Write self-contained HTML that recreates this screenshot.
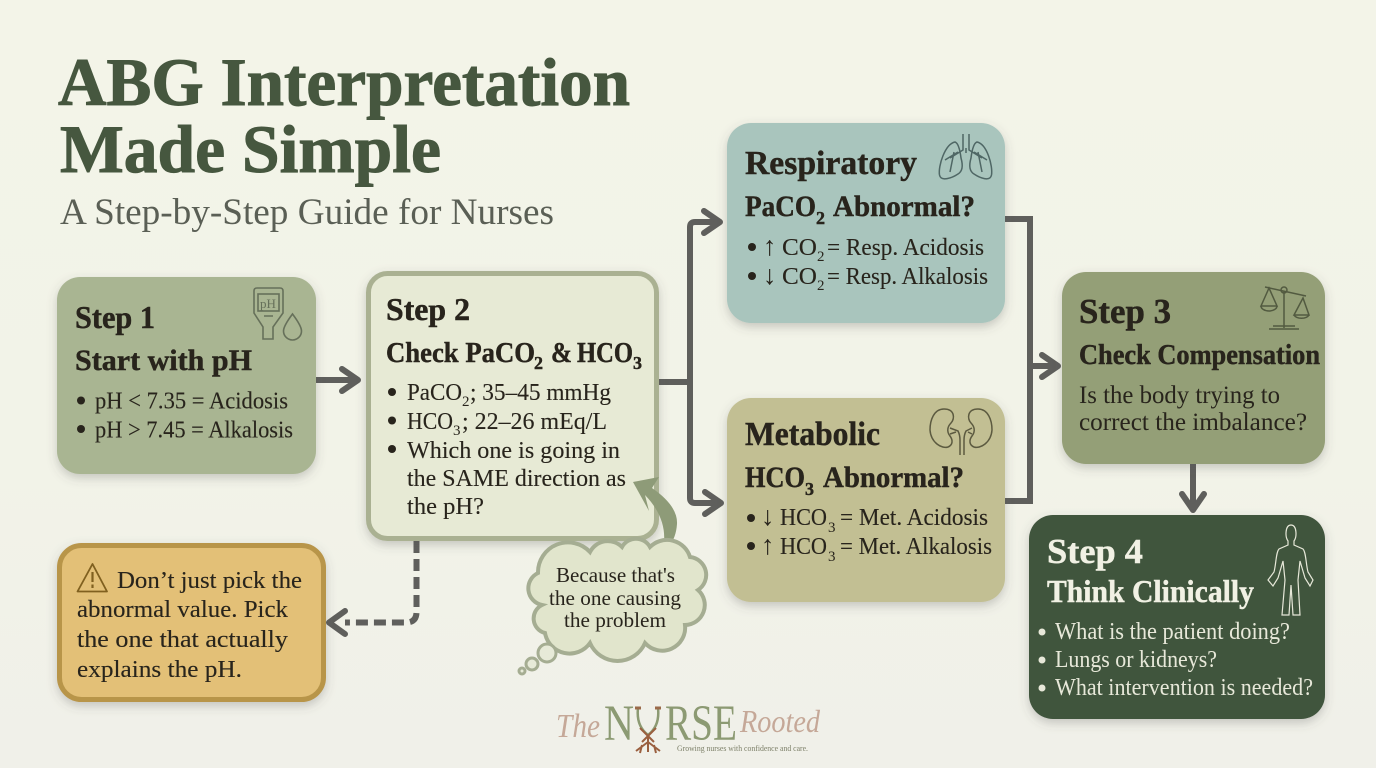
<!DOCTYPE html>
<html><head><meta charset="utf-8"><title>ABG Interpretation Made Simple</title>
<style>
html,body{margin:0;padding:0;width:1376px;height:768px;overflow:hidden;background:#f2f3e8}
svg{display:block}
text{font-family:"Liberation Serif",serif;fill:#28241c}
.b{font-weight:bold;stroke:#28241c;stroke-width:.45px}
.t{font-weight:bold;fill:#46573f;stroke:#46573f;stroke-width:1px}
.w{fill:#f1f1e4;stroke:#f1f1e4}
.li{font-size:24.500px;stroke:#28241c;stroke-width:.12px}
.l{fill:#e7e8d9;font-size:24px}
.ic{fill:none;stroke:#66705a;stroke-width:1.600}
</style></head><body>
<svg width="1376" height="768" viewBox="0 0 1376 768" xmlns="http://www.w3.org/2000/svg">
<defs>
<filter id="s" x="-10%" y="-10%" width="120%" height="125%"><feDropShadow dx="0" dy="4" stdDeviation="5" flood-color="#555" flood-opacity=".28"/></filter>
<linearGradient id="bg" x1="0" y1="0" x2="0" y2="1"><stop offset="0" stop-color="#f3f4e8"/><stop offset=".6" stop-color="#f2f3e8"/><stop offset="1" stop-color="#f0f0e9"/></linearGradient>
<marker id="a" viewBox="0 0 24 30" refX="20" refY="15" markerWidth="24" markerHeight="30" markerUnits="userSpaceOnUse" orient="auto"><path d="M4 4L20 15L4 26" fill="none" stroke="#5f5f5c" stroke-width="6" stroke-linecap="round" stroke-linejoin="round"/></marker>
</defs>
<rect width="1376" height="768" fill="url(#bg)"/>

<text class="t" x="58" y="105" font-size="68" textLength="572" lengthAdjust="spacingAndGlyphs">ABG Interpretation</text>
<text class="t" x="60" y="172" font-size="68" textLength="381" lengthAdjust="spacingAndGlyphs">Made Simple</text>
<text x="60" y="224" font-size="37" textLength="494" lengthAdjust="spacingAndGlyphs" style="fill:#5a5f55">A Step-by-Step Guide for Nurses</text>

<g fill="none" stroke="#5f5f5c" stroke-width="6">
<path d="M316 380H358" marker-end="url(#a)"/>
<path d="M659 382H690"/>
<path d="M690 382V227Q690 222 695 222H720" marker-end="url(#a)"/>
<path d="M690 382V498Q690 503 695 503H721" marker-end="url(#a)"/>
<path d="M1005 219H1030V501H1005"/>
<path d="M1030 366H1058" marker-end="url(#a)"/>
<path d="M1193 464V510" marker-end="url(#a)"/>
<path d="M416.500 541V612Q416.500 622.500 406 622.500H345" stroke-dasharray="12 6"/>
<path d="M345 611L329 622.500L345 634" stroke-linecap="round" stroke-linejoin="round"/>
</g>

<rect x="57" y="277" width="259" height="197" rx="23" fill="#a9b592" filter="url(#s)"/>
<rect x="368.500" y="273.500" width="288" height="265" rx="19" fill="#e7ead5" stroke="#aab192" stroke-width="5" filter="url(#s)"/>
<rect x="727" y="123" width="278" height="200" rx="24" fill="#a9c5bd" filter="url(#s)"/>
<rect x="727" y="398" width="278" height="204" rx="24" fill="#c2bf93" filter="url(#s)"/>
<rect x="1062" y="272" width="263" height="192" rx="24" fill="#949f77" filter="url(#s)"/>
<rect x="1029" y="515" width="296" height="204" rx="24" fill="#40553d" filter="url(#s)"/>
<rect x="59.500" y="545.500" width="264" height="154" rx="22" fill="#e3c077" stroke="#b8954a" stroke-width="5" filter="url(#s)"/>

<!-- Step 1 -->
<text class="b" x="75" y="328" font-size="32" textLength="80" lengthAdjust="spacingAndGlyphs">Step 1</text>
<text class="b" x="75" y="370" font-size="30" textLength="177" lengthAdjust="spacingAndGlyphs">Start with pH</text>
<circle cx="81" cy="400.500" r="4" fill="#28241c"/><circle cx="81" cy="429" r="4" fill="#28241c"/>
<text class="li" x="95" y="408.500" textLength="193" lengthAdjust="spacingAndGlyphs">pH &lt; 7.35 = Acidosis</text>
<text class="li" x="95" y="437.500" textLength="198" lengthAdjust="spacingAndGlyphs">pH &gt; 7.45 = Alkalosis</text>
<g class="ic">
<path d="M254 291q0-3 3-3h23q3 0 3 3v22l-10 14v12h-10v-12l-9-14z"/>
<rect x="258" y="294" width="21" height="17"/>
<path d="M264 316h9M292.500 314q9 12 9 17a9 9 0 0 1-18 0q0-5 9-17z"/>
</g>
<text x="260" y="308" font-size="13" style="fill:#66705a">pH</text>

<!-- Step 2 -->
<text class="b" x="386" y="320" font-size="32" textLength="84" lengthAdjust="spacingAndGlyphs">Step 2</text>
<text class="b" x="386" y="362" font-size="29" textLength="149" lengthAdjust="spacingAndGlyphs">Check PaCO</text>
<text class="b" x="534" y="369" font-size="18">2</text>
<text class="b" x="551" y="362" font-size="29" textLength="21" lengthAdjust="spacingAndGlyphs">&amp;</text>
<text class="b" x="577" y="362" font-size="29" textLength="56" lengthAdjust="spacingAndGlyphs">HCO</text>
<text class="b" x="633" y="369" font-size="18">3</text>
<g fill="#28241c"><circle cx="392" cy="392" r="4"/><circle cx="392" cy="420.500" r="4"/><circle cx="392" cy="449" r="4"/></g>
<text class="li" x="407" y="400" textLength="55" lengthAdjust="spacingAndGlyphs">PaCO</text>
<text x="462" y="406" font-size="15">2</text>
<text class="li" x="470" y="400" textLength="141" lengthAdjust="spacingAndGlyphs">; 35–45 mmHg</text>
<text class="li" x="407" y="429" textLength="46" lengthAdjust="spacingAndGlyphs">HCO</text>
<text x="453" y="435" font-size="15">3</text>
<text class="li" x="462" y="429" textLength="145" lengthAdjust="spacingAndGlyphs">; 22–26 mEq/L</text>
<text class="li" x="407" y="458" textLength="213" lengthAdjust="spacingAndGlyphs">Which one is going in</text>
<text class="li" x="407" y="486" textLength="219" lengthAdjust="spacingAndGlyphs">the SAME direction as</text>
<text class="li" x="407" y="514" textLength="77" lengthAdjust="spacingAndGlyphs">the pH?</text>

<!-- Cloud -->
<path d="M633 482L659 477L652 488Q678 506 677 524Q676 538 669 546L663 549Q669 520 645 495L649 511Z" fill="#8e9b78"/>
<path d="M590 552A20 20 0 0 1 622 547A16 16 0 0 1 650 547A24 24 0 0 1 690 557A18 18 0 0 1 698 590A20 20 0 0 1 685 625A23 23 0 0 1 645 643A30 30 0 0 1 590 643A25 25 0 0 1 545 633A15 15 0 0 1 542 605A17 17 0 0 1 538 573A30 30 0 0 1 590 552Z" fill="#e1e5cc" stroke="#a5ad92" stroke-width="4"/>
<g fill="#e7ead8" stroke="#a5ad92" stroke-width="3"><circle cx="547" cy="653" r="9"/><circle cx="532" cy="664" r="6"/><circle cx="522" cy="671" r="3"/></g>
<text x="556" y="582" font-size="21.500" textLength="119" lengthAdjust="spacingAndGlyphs">Because that's</text>
<text x="549" y="605" font-size="21.500" textLength="132" lengthAdjust="spacingAndGlyphs">the one causing</text>
<text x="564" y="627" font-size="21.500" textLength="102" lengthAdjust="spacingAndGlyphs">the problem</text>

<!-- Warning -->
<path d="M92.500 564L107 591.500H77.500Z" fill="none" stroke="#80601f" stroke-width="1.800" stroke-linejoin="round"/>
<path d="M92.500 572V582M92.500 584.500V588" stroke="#80601f" stroke-width="2.200"/>
<text class="li" x="117" y="588" textLength="185" lengthAdjust="spacingAndGlyphs">Don’t just pick the</text>
<text class="li" x="77" y="617" textLength="211" lengthAdjust="spacingAndGlyphs">abnormal value. Pick</text>
<text class="li" x="77" y="647" textLength="211" lengthAdjust="spacingAndGlyphs">the one that actually</text>
<text class="li" x="77" y="677" textLength="165" lengthAdjust="spacingAndGlyphs">explains the pH.</text>

<!-- Respiratory -->
<text class="b" x="745" y="174" font-size="34" textLength="172" lengthAdjust="spacingAndGlyphs">Respiratory</text>
<text class="b" x="745" y="216" font-size="30" textLength="71" lengthAdjust="spacingAndGlyphs">PaCO</text>
<text class="b" x="816" y="224" font-size="18">2</text>
<text class="b" x="833" y="216" font-size="30" textLength="142" lengthAdjust="spacingAndGlyphs">Abnormal?</text>
<g fill="#28241c"><circle cx="752" cy="247" r="4"/><circle cx="752" cy="276" r="4"/></g>
<text x="763" y="255" font-size="27">↑</text><text x="763" y="284" font-size="27">↓</text>
<text class="li" x="782" y="255" textLength="35" lengthAdjust="spacingAndGlyphs">CO</text><text x="817" y="261" font-size="15">2</text>
<text class="li" x="827" y="255" textLength="157" lengthAdjust="spacingAndGlyphs">= Resp. Acidosis</text>
<text class="li" x="782" y="284" textLength="35" lengthAdjust="spacingAndGlyphs">CO</text><text x="817" y="290" font-size="15">2</text>
<text class="li" x="827" y="284" textLength="161" lengthAdjust="spacingAndGlyphs">= Resp. Alkalosis</text>
<g fill="none" stroke="#4f6765" stroke-width="1.500">
<path d="M963 134V150L950 158M969 134V150L982 158M966 148V153"/>
<path d="M955 142C945 144 938 166 939.500 175C941 182 952 178 958 174C963 171 963 165 961 158C960 150 958 143 955 142Z"/>
<path d="M977 142C987 144 993 166 991.500 175C990 182 980 178 974 174C969 171 969 165 971 158C972 150 974 143 977 142Z"/>
<path d="M945 160L958 152M950 172L954 152M987 160L974 152M982 172L978 152"/>
</g>

<!-- Metabolic -->
<text class="b" x="745" y="445" font-size="34" textLength="135" lengthAdjust="spacingAndGlyphs">Metabolic</text>
<text class="b" x="745" y="487" font-size="30" textLength="60" lengthAdjust="spacingAndGlyphs">HCO</text>
<text class="b" x="805" y="495" font-size="18">3</text>
<text class="b" x="823" y="487" font-size="30" textLength="141" lengthAdjust="spacingAndGlyphs">Abnormal?</text>
<g fill="#28241c"><circle cx="751" cy="518" r="4"/><circle cx="751" cy="546" r="4"/></g>
<text x="761" y="525" font-size="27">↓</text><text x="761" y="554" font-size="27">↑</text>
<text class="li" x="780" y="525" textLength="47" lengthAdjust="spacingAndGlyphs">HCO</text><text x="828" y="532" font-size="15">3</text>
<text class="li" x="840" y="525" textLength="148" lengthAdjust="spacingAndGlyphs">= Met. Acidosis</text>
<text class="li" x="780" y="554" textLength="47" lengthAdjust="spacingAndGlyphs">HCO</text><text x="828" y="561" font-size="15">3</text>
<text class="li" x="840" y="554" textLength="152" lengthAdjust="spacingAndGlyphs">= Met. Alkalosis</text>
<g fill="none" stroke="#5c5a40" stroke-width="1.500">
<path d="M944 409C934 409 930 420 930 430C931 443 942 449 948 447C953 445 953 440 950 436C946 431 948 426 951 423C955 419 955 409 944 409Z"/>
<path d="M978 409C988 409 992 420 992 430C991 443 980 449 974 447C969 445 969 440 972 436C976 431 974 426 971 423C967 419 967 409 978 409Z"/>
<path d="M950 428L958 431Q960 435 960 440V455M950 434L956 432M972 428L966 431Q964 435 964 440V455M972 434L968 432"/>
</g>

<!-- Step 3 -->
<text class="b" x="1079" y="323" font-size="35" textLength="92" lengthAdjust="spacingAndGlyphs">Step 3</text>
<text class="b" x="1079" y="364" font-size="28" textLength="241" lengthAdjust="spacingAndGlyphs">Check Compensation</text>
<text x="1079" y="403" font-size="25" textLength="201" lengthAdjust="spacingAndGlyphs">Is the body trying to</text>
<text x="1079" y="430" font-size="25" textLength="228" lengthAdjust="spacingAndGlyphs">correct the imbalance?</text>
<g fill="none" stroke="#525a40" stroke-width="1.500">
<path d="M1265 287L1306 296M1284 291V328M1269 329H1299M1273 326H1295"/><circle cx="1284" cy="290" r="3"/>
<path d="M1269 288L1261 306H1277ZM1261 306A8 5 0 0 0 1277 306M1303 298L1294 315H1309ZM1294 315A8 5 0 0 0 1309 315"/>
</g>

<!-- Step 4 -->
<text class="b w" x="1047" y="563" font-size="35" textLength="96" lengthAdjust="spacingAndGlyphs">Step 4</text>
<text class="b w" x="1047" y="602" font-size="32" textLength="207" lengthAdjust="spacingAndGlyphs">Think Clinically</text>
<g fill="#e7e8d9"><circle cx="1042" cy="632" r="3.500"/><circle cx="1042" cy="660" r="3.500"/><circle cx="1042" cy="688" r="3.500"/></g>
<text class="l" x="1055" y="639" textLength="235" lengthAdjust="spacingAndGlyphs">What is the patient doing?</text>
<text class="l" x="1055" y="667" textLength="162" lengthAdjust="spacingAndGlyphs">Lungs or kidneys?</text>
<text class="l" x="1055" y="695" textLength="258" lengthAdjust="spacingAndGlyphs">What intervention is needed?</text>
<path d="M1291 525C1285 525 1285 537 1288 541V545L1279 549C1276 552 1276 565 1274 572L1268 580L1273 586L1278 578L1283 561L1285 580L1282 615H1289L1291 585L1293 615H1300L1298 580L1300 561L1305 578L1310 586L1313 580L1308 572C1306 565 1306 552 1303 549L1294 545V541C1297 537 1297 525 1291 525Z" fill="none" stroke="#e7e8d9" stroke-width="1.200"/>

<!-- Logo -->
<text x="556" y="737" font-size="34" font-style="italic" textLength="44" lengthAdjust="spacingAndGlyphs" style="fill:#c5a898">The</text>
<text x="604" y="740" font-size="51" textLength="30" lengthAdjust="spacingAndGlyphs" style="fill:#8c9a73">N</text>
<text x="665" y="740" font-size="51" textLength="72" lengthAdjust="spacingAndGlyphs" style="fill:#8c9a73">RSE</text>
<text x="740" y="732" font-size="32" font-style="italic" textLength="80" lengthAdjust="spacingAndGlyphs" style="fill:#c5a898">Rooted</text>
<text x="677" y="751" font-size="8" textLength="131" lengthAdjust="spacingAndGlyphs" style="fill:#7c7f68">Growing nurses with confidence and care.</text>
<path d="M638 708Q636 726 648 735Q660 726 658 708" fill="none" stroke="#8c9a73" stroke-width="2.500"/>
<path d="M635 708h6M655 708h6" stroke="#9a6a4a" stroke-width="3"/>
<path d="M640 728L654 742M656 728L642 742M648 736V752M648 742L636 751M648 742L660 751M642 745L640 753M654 745L656 753" stroke="#9a5f3f" stroke-width="2" fill="none"/>
</svg>
</body></html>
